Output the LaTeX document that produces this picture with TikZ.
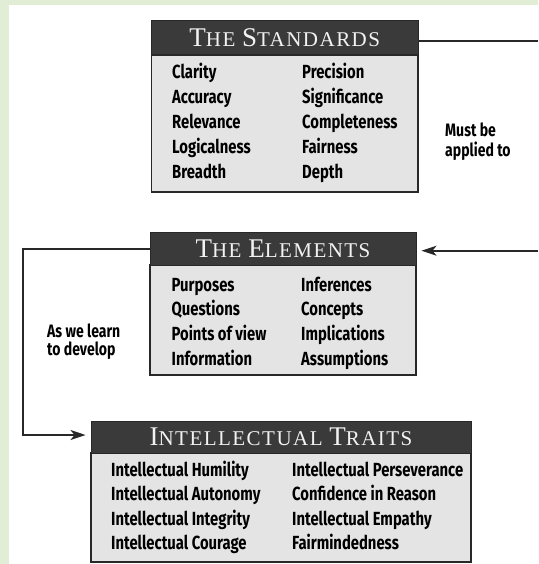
\documentclass[tikz,border=0pt]{standalone}
\usepackage{fontspec}
\usetikzlibrary{arrows.meta}
\newfontfamily\itemfont{Fira Sans}[FakeStretch=0.78]
\newfontfamily\hdfont{Liberation Serif}[LetterSpace=7]
\definecolor{bggreen}{RGB}{226,237,214}
\definecolor{hdrfill}{RGB}{58,58,58}
\definecolor{bodyfill}{RGB}{228,228,228}
\definecolor{linecol}{RGB}{40,40,40}
\newcommand\itf{\itemfont\bfseries\fontsize{19}{24.8}\selectfont}
\newcommand\lbf{\itemfont\bfseries\fontsize{18}{17}\selectfont}
\newcommand\hdf{\hdfont\fontsize{21}{21}\selectfont}
\newcommand\bigc[1]{{\fontsize{27}{27}\selectfont #1}}
\begin{document}
\begin{tikzpicture}[x=1pt,y=-1pt,
  hdr/.style={draw=linecol, line width=1pt, fill=hdrfill, text=white!95!black, inner sep=0pt, font=\hdf},
  bodybox/.style={draw=linecol, line width=1.3pt, fill=bodyfill, inner sep=0pt},
  items/.style={anchor=base west, inner sep=0pt, font=\itf},
  lbl/.style={anchor=base west, inner sep=0pt, font=\lbf},
  conn/.style={draw=linecol, line width=1.6pt},
  arr/.style={conn, -{Stealth[length=15pt,width=10pt,inset=4pt]}}]
\useasboundingbox (0,0) rectangle (538,564);
\fill[bggreen] (0,0) rectangle (538,564);
\fill[white] (9,5) rectangle (538,564);

% The Standards
\node[bodybox, minimum width=266.5pt, minimum height=137pt] (stdbody) at (284.75,123.5) {};
\node[hdr, minimum width=266.5pt, minimum height=34pt] (stdhead) at (284.75,38)
  {\bigc{T}HE \bigc{S}TANDARDS};
\node[items] (stditems) at (172,79) {\begin{tabular}[t]{@{}p{130pt}@{}l@{}}
Clarity & Precision\\
Accuracy & Significance\\
Relevance & Completeness\\
Logicalness & Fairness\\
Breadth & Depth
\end{tabular}};

% The Elements
\node[bodybox, minimum width=266pt, minimum height=110pt] (elbody) at (283,320) {};
\node[hdr, minimum width=266pt, minimum height=32.3pt] (elhead) at (283,248.85)
  {\bigc{T}HE \bigc{E}LEMENTS};
\node[items] (elitems) at (171.5,291) {\begin{tabular}[t]{@{}p{129.5pt}@{}l@{}}
Purposes & Inferences\\
Questions & Concepts\\
Points of view & Implications\\
Information & Assumptions
\end{tabular}};

% Intellectual Traits
\node[bodybox, minimum width=380pt, minimum height=109pt] (trbody) at (281,507.5) {};
\node[hdr, minimum width=380pt, minimum height=32pt] (trhead) at (281,437)
  {\bigc{I}NTELLECTUAL \bigc{T}RAITS};
\node[items] (tritems) at (111,476) {\fontsize{19}{24.5}\selectfont\begin{tabular}[t]{@{}p{181pt}@{}l@{}}
Intellectual Humility & Intellectual Perseverance\\
Intellectual Autonomy & Confidence in Reason\\
Intellectual Integrity & Intellectual Empathy\\
Intellectual Courage & Fairmindedness
\end{tabular}};

% Labels
\node[lbl] (mustbe) at (445,137) {\begin{tabular}[t]{@{}l@{}}Must be\\ applied to\end{tabular}};
\node[lbl] (aswe) at (47,337) {\begin{tabular}[t]{@{}l@{}}As we learn\\ to develop\end{tabular}};

% Connectors
\coordinate (stdout) at (538,41);
\draw[conn] (stdhead.east |- stdout) -- (stdout);
\coordinate (elin) at (538,250.7);
\draw[arr, shorten >=5pt] (elin) -- (elhead.east |- elin);
\coordinate (turn) at (23,435);
\draw[arr, shorten >=5pt] (elhead.west) -| (turn) -- (trhead.west |- turn);
\end{tikzpicture}
\end{document}
